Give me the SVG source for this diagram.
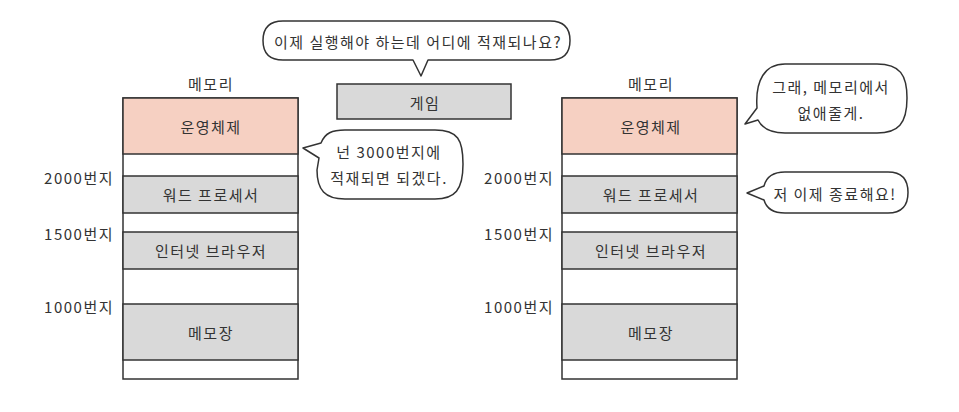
<svg xmlns="http://www.w3.org/2000/svg" width="959" height="412" viewBox="0 0 959 412">
<style>
text{font-family:"Noto Sans CJK KR","Noto Sans",sans-serif;font-size:15px;fill:#333;text-anchor:middle;dominant-baseline:central;letter-spacing:1.5px}
.addr{text-anchor:end}
.os{fill:#f6d0c2;stroke:#333;stroke-width:1.5}
.used{fill:#d9d9d9;stroke:#333;stroke-width:1.5}
.free{fill:#fff;stroke:#333;stroke-width:1.5}
.bubble{fill:#fff;stroke:#333;stroke-width:1.5;stroke-linejoin:round}
</style>
<rect width="959" height="412" fill="#fff"/>

<g id="memory-left">
<text x="211" y="83">메모리</text>
<rect class="free" x="123" y="98" width="175" height="281"/>
<rect class="os" x="123" y="98" width="175" height="56"/>
<rect class="used" x="123" y="176" width="175" height="37"/>
<rect class="used" x="123" y="232" width="175" height="37"/>
<rect class="used" x="123" y="304" width="175" height="56"/>
<text x="211" y="126">운영체제</text>
<text x="211" y="194">워드 프로세서</text>
<text x="211" y="250">인터넷 브라우저</text>
<text x="211" y="332">메모장</text>
<text class="addr" x="114" y="177">2000번지</text>
<text class="addr" x="114" y="233">1500번지</text>
<text class="addr" x="114" y="306">1000번지</text>
</g>

<g id="memory-right">
<text x="651" y="83">메모리</text>
<rect class="free" x="562" y="98" width="175" height="281"/>
<rect class="os" x="562" y="98" width="175" height="56"/>
<rect class="used" x="562" y="176" width="175" height="37"/>
<rect class="used" x="562" y="232" width="175" height="37"/>
<rect class="used" x="562" y="304" width="175" height="56"/>
<text x="651" y="126">운영체제</text>
<text x="651" y="194">워드 프로세서</text>
<text x="651" y="250">인터넷 브라우저</text>
<text x="651" y="332">메모장</text>
<text class="addr" x="554" y="177">2000번지</text>
<text class="addr" x="554" y="233">1500번지</text>
<text class="addr" x="554" y="306">1000번지</text>
</g>

<g id="game">
<rect class="used" x="337" y="84" width="174" height="35"/>
<text x="425" y="102">게임</text>
</g>

<g id="bubble-top">
<path class="bubble" d="M 283,21 H 550 Q 570,21 570,40.5 Q 570,60 550,60 H 428 L 421,76 L 413,60 H 283 Q 263,60 263,40.5 Q 263,21 283,21 Z"/>
<text x="418" y="41">이제 실행해야 하는데 어디에 적재되나요?</text>
</g>

<g id="bubble-left">
<path class="bubble" d="M 345,130 H 435 C 458,130 463,140 463,164 C 463,190 455,199 435,199 H 345 C 325,199 317,190 317,170 L 319,158 L 303,148 L 321,143 C 325,133 332,130 345,130 Z"/>
<text x="389" y="151">넌 3000번지에</text>
<text x="389" y="177">적재되면 되겠다.</text>
</g>

<g id="bubble-right-1">
<path class="bubble" d="M 785,64 H 877 C 900,64 907,75 907,98 C 907,124 898,133 877,133 H 785 C 770,133 762,128 758,120 L 745,124 L 757,108 C 755,80 765,64 785,64 Z"/>
<text x="831" y="86">그래, 메모리에서</text>
<text x="831" y="112">없애줄게.</text>
</g>

<g id="bubble-right-2">
<path class="bubble" d="M 785,172 H 888 C 903,172 908,180 908,192.5 C 908,205 903,213 888,213 H 785 C 772,213 766,207 764,200 L 747,193 L 764,186 C 766,178 772,172 785,172 Z"/>
<text x="835" y="193">저 이제 종료해요!</text>
</g>

<g id="connectors"></g>
</svg>
